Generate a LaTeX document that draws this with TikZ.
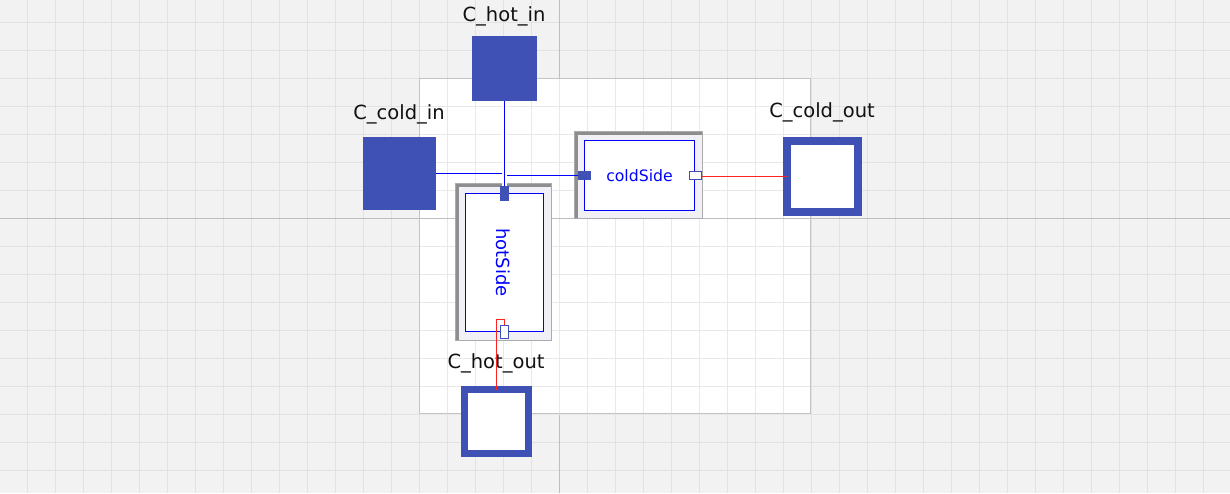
\documentclass[tikz,border=0pt]{standalone}
\usepackage{fontspec}
\setmainfont{DejaVu Sans}
\usetikzlibrary{calc}
\definecolor{bggray}{HTML}{F2F2F2}
\definecolor{gridout}{HTML}{E2E2E2}
\definecolor{gridin}{HTML}{E8E8E8}
\definecolor{axisgray}{HTML}{BEBEBE}
\definecolor{canvasline}{HTML}{C4C4C4}
\definecolor{portblue}{HTML}{3F51B5}
\definecolor{linkblue}{HTML}{0000FF}
\definecolor{linkred}{HTML}{FF2020}
\definecolor{lavender}{HTML}{F0F0F6}
\definecolor{framedark}{HTML}{8E8E8E}
\definecolor{framelight}{HTML}{ABABAB}
\definecolor{labelblack}{HTML}{111111}
\begin{document}
\begin{tikzpicture}[x=1pt,y=-1pt,
  every node/.style={inner sep=0pt,outer sep=0pt},
  gridoutline/.style={draw=gridout,line width=1pt},
  gridinline/.style={draw=gridin,line width=1pt},
  axisline/.style={draw=axisgray,line width=1pt},
  solidsq/.style={fill=portblue,draw=none,rectangle},
  hollowsq/.style={fill=white,draw=portblue,rectangle},
  comlabel/.style={text=labelblack,font=\fontsize{19.5}{23}\selectfont,anchor=base},
  frameouter/.style={rectangle,fill=lavender,draw=framelight,line width=1pt},
  frameinner/.style={rectangle,fill=white,draw=linkblue,line width=1pt,text=linkblue},
  stripe/.style={draw=framedark,line width=3pt},
  pfill/.style={rectangle,fill=portblue,draw=none},
  phollow/.style={rectangle,fill=white,draw=portblue,line width=1pt},
  bluelink/.style={draw=linkblue,line width=1pt},
  redlink/.style={draw=linkred,line width=1pt},
  halo/.style={draw=white,line width=5pt}]
\useasboundingbox (0,0) rectangle (1230,493);
% background and grid
\fill[bggray] (0,0) rectangle (1230,493);
\foreach \k in {-19,...,24} \draw[gridoutline] ({559.5+28*\k},0) -- ({559.5+28*\k},493);
\foreach \k in {-7,...,9} \draw[gridoutline] (0,{218.5+28*\k}) -- (1230,{218.5+28*\k});
\draw[axisline] (559.5,0) -- (559.5,493);
\fill[white] (419,78) rectangle (811,414);
\begin{scope}
  \clip (419,78) rectangle (811,414);
  \foreach \k in {-5,...,9} \draw[gridinline] ({559.5+28*\k},78) -- ({559.5+28*\k},414);
  \foreach \k in {-5,...,7} \draw[gridinline] (419,{218.5+28*\k}) -- (811,{218.5+28*\k});
\end{scope}
\draw[axisline] (0,218.5) -- (1230,218.5);
\draw[draw=canvasline,line width=1pt] (419.5,78.5) rectangle (810.5,413.5);

% boundary components
\node[solidsq,minimum width=65pt,minimum height=65pt] (hotin) at (504.5,68.5) {};
\node[solidsq,minimum width=73pt,minimum height=73pt] (coldin) at (399.5,173.5) {};
\node[hollowsq,line width=8pt,minimum width=71pt,minimum height=71pt] (coldout) at (822.5,176.5) {};
\node[hollowsq,line width=7pt,minimum width=64pt,minimum height=64pt] (hotout) at (496.5,421.5) {};
\node[comlabel] (lhotin) at (504,21.5) {C\_hot\_in};
\node[comlabel] (lcoldin) at (399,119) {C\_cold\_in};
\node[comlabel] (lcoldout) at (822,117) {C\_cold\_out};
\node[comlabel] (lhotout) at (496,368.5) {C\_hot\_out};

% hotSide
\node[frameouter,minimum width=96pt,minimum height=157pt] (hotframe) at (503.5,262) {};
\draw[stripe] ($(hotframe.south west)+(1.5,-1)$) -- ($(hotframe.north west)+(1.5,1.5)$) -- ($(hotframe.north east)+(-1,1.5)$);
\node[frameinner,minimum width=78pt,minimum height=138pt] (hotSide) at (504.5,262.5) {};
\node[text=linkblue,font=\fontsize{18}{22}\selectfont,rotate=-90] (hottext) at (503.5,262.5) {hotSide};

% coldSide
\node[frameouter,minimum width=128pt,minimum height=87pt] (coldframe) at (638.5,175) {};
\draw[stripe] ($(coldframe.south west)+(1.5,-1)$) -- ($(coldframe.north west)+(1.5,1.5)$) -- ($(coldframe.north east)+(-1,1.5)$);
\node[frameinner,minimum width=110pt,minimum height=70pt,font=\fontsize{15.7}{19}\selectfont] (coldSide) at (639.5,175.5) {coldSide};

% ports
\node[pfill,minimum width=9pt,minimum height=15pt] (hotport1) at (504.5,193.5) {};
\node[phollow,minimum width=8pt,minimum height=13pt] (hotport2) at (504.5,332) {};
\node[pfill,minimum width=13pt,minimum height=9pt] (coldport1) at (584.5,175.5) {};
\node[phollow,minimum width=12pt,minimum height=8pt] (coldport2) at (695.5,175.5) {};

% connectors
\coordinate (cj1) at (504.5,173.5);
\coordinate (cj2) at (504.5,175.5);
\draw[bluelink] (coldin.east |- cj1) -- (cj1) -- (cj2) -- (coldport1.west);
\draw[halo] (hotin.south) -- (hotport1.north);
\draw[bluelink] (hotin.south) -- (hotport1.north);
\coordinate (cr1) at (702,176.5);
\draw[redlink] (coldport2.east |- cr1) -- (coldout.west |- cr1);
\coordinate (hj1) at (504.5,319.5);
\coordinate (hj2) at (496.5,319.5);
\draw[redlink] (hotport2.north) -- (hj1) -- (hj2) -- (hotout.north);
\node[phollow,minimum width=8pt,minimum height=13pt] at (hotport2) {};
\end{tikzpicture}
\end{document}
